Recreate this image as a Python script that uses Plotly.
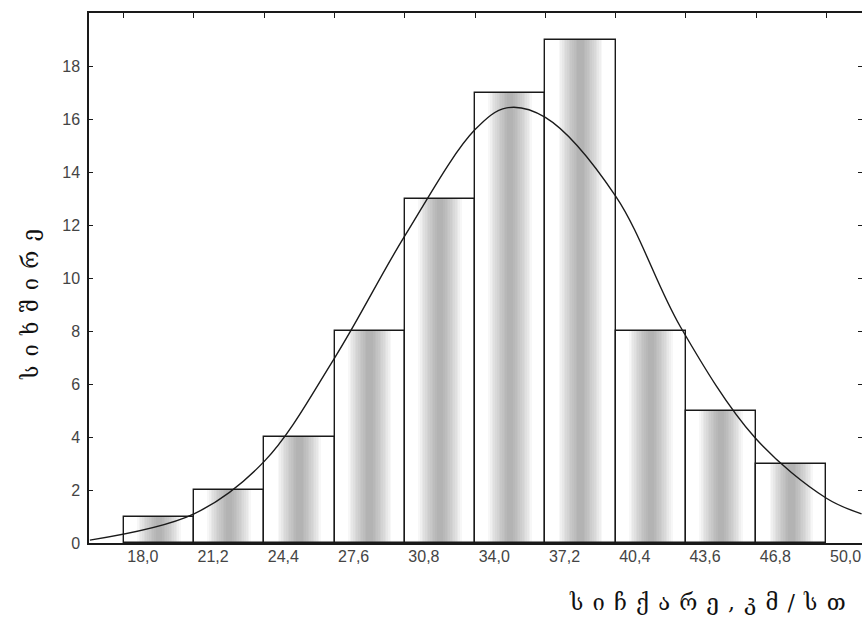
import plotly.graph_objects as go

# ---- data ----
bin_centers = [18.0, 21.2, 24.4, 27.6, 30.8, 34.0, 37.2, 40.4, 43.6, 46.8]
counts = [1, 2, 4, 8, 13, 17, 19, 8, 5, 3]
tick_values = [18.0, 21.2, 24.4, 27.6, 30.8, 34.0, 37.2, 40.4, 43.6, 46.8, 50.0]
tick_labels = ["18,0", "21,2", "24,4", "27,6", "30,8", "34,0", "37,2", "40,4", "43,6", "46,8", "50,0"]
y_ticks = [0, 2, 4, 6, 8, 10, 12, 14, 16, 18]

# fitted normal curve
curve_x = [14.86, 19.6, 22.8, 26.0, 29.2, 32.4, 33.84, 35.6, 38.8, 41.75, 45.14, 48.4, 50.0]
curve_y = [0.11, 1.1, 3.08, 6.98, 11.59, 15.6, 16.42, 16.06, 13.09, 8.16, 3.98, 1.69, 1.1]

y_title = "ს ი ხ შ ი რ ე"
x_title = "ს ი ჩ ქ ა რ ე , კ მ / ს თ"

bin_width = bin_centers[1] - bin_centers[0]
bin_edges = [c - bin_width / 2 for c in bin_centers] + [bin_centers[-1] + bin_width / 2]

fig = go.Figure()

# white bars
fig.add_trace(go.Bar(x=bin_centers, y=counts, width=bin_width,
                     marker=dict(color="white", line=dict(width=0)),
                     hoverinfo="skip", showlegend=False))
# soft grey vertical band (layered to fake the gradient)
for i in range(12):
    frac = 0.62 - i * 0.048
    fig.add_trace(go.Bar(x=bin_centers, y=counts, width=bin_width * frac,
                         marker=dict(color="rgba(110,110,110,0.055)", line=dict(width=0)),
                         hoverinfo="skip", showlegend=False))
# outlines
fig.add_trace(go.Bar(x=bin_centers, y=counts, width=bin_width,
                     marker=dict(color="rgba(0,0,0,0)", line=dict(color="#1a1a1a", width=1.4)),
                     hoverinfo="skip", showlegend=False))
# normal curve
fig.add_trace(go.Scatter(x=curve_x, y=curve_y, mode="lines",
                         line=dict(color="#1a1a1a", width=1.4, shape="spline", smoothing=1.0),
                         hoverinfo="skip", showlegend=False))
# invisible trace for top axis ticks
fig.add_trace(go.Scatter(x=bin_edges, y=[0] * len(bin_edges), xaxis="x2", mode="markers",
                         marker=dict(opacity=0), hoverinfo="skip", showlegend=False))

tick_font = dict(family="Liberation Sans, Arial, sans-serif", size=16, color="#444")
sp = " \u200a"

fig.update_layout(
    width=862, height=625,
    margin=dict(l=89, r=0, t=13, b=82, autoexpand=False),
    paper_bgcolor="white", plot_bgcolor="white",
    barmode="overlay", bargap=0,
    xaxis=dict(range=[14.82, 50.02], tickvals=tick_values, ticktext=tick_labels,
               ticks="", showgrid=False, zeroline=False, automargin=False,
               showline=True, linecolor="#1a1a1a", linewidth=1.5, mirror=True,
               tickfont=tick_font, ticklabelshift=-16, ticklabelstandoff=-2),
    xaxis2=dict(overlaying="x", side="top", matches="x", tickvals=bin_edges,
                showticklabels=False, ticks="inside", ticklen=5, tickcolor="#1a1a1a",
                showgrid=False, zeroline=False, showline=False, automargin=False),
    yaxis=dict(range=[0, 20], tickvals=y_ticks, ticks="inside", ticklen=4,
               tickcolor="#1a1a1a", showgrid=False, zeroline=False, automargin=False,
               showline=True, linecolor="#1a1a1a", linewidth=1.5, mirror="ticks",
               tickfont=tick_font, ticklabelstandoff=4),
    annotations=[
        dict(text=y_title.replace(" ", sp), xref="paper", yref="paper", x=-0.0763, y=0.449,
             textangle=-90, showarrow=False, xanchor="center", yanchor="middle",
             font=dict(family="DejaVu Serif, DejaVu Sans, serif", size=22, color="#111")),
        dict(text=x_title.replace(" ", sp), xref="paper", yref="paper", x=0.982, y=-0.113,
             showarrow=False, xanchor="right", yanchor="middle",
             font=dict(family="DejaVu Serif, DejaVu Sans, serif", size=22, color="#111")),
    ],
)

fig.write_html("out.html", config={"displayModeBar": False},
               post_script="document.body.style.margin='0px';document.body.style.overflow='hidden';")
